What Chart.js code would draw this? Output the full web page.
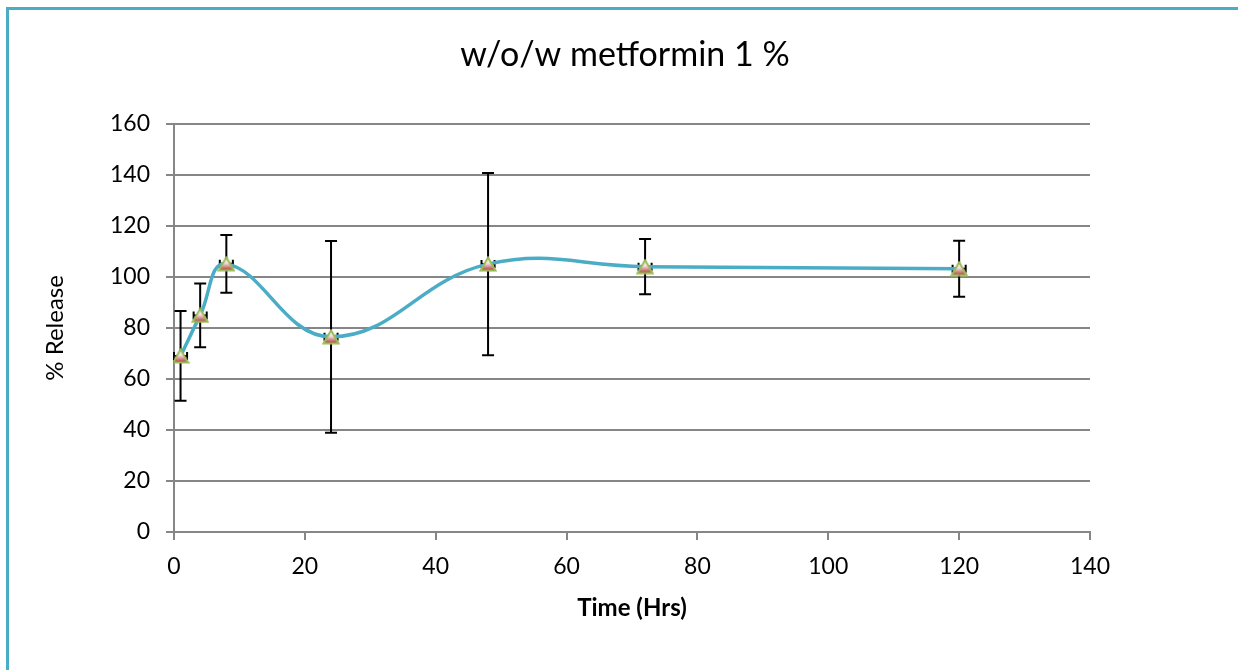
<!DOCTYPE html>
<html>
<head>
<meta charset="utf-8">
<script src="https://cdn.jsdelivr.net/npm/chart.js@4.4.1/dist/chart.umd.min.js"></script>
<style>
  html, body { margin: 0; padding: 0; background: #fff; overflow: hidden; }
  #frame { position: absolute; left: 6px; top: 7px; width: 1300px; height: 700px;
           border-left: 3px solid #4bacc6; border-top: 3px solid #4bacc6; }
  #wrap { position: absolute; left: 0; top: 0; width: 1238px; height: 670px; }
</style>
</head>
<body>
<div id="frame"></div>
<div id="wrap"><canvas id="chart" width="1238" height="670"></canvas></div>
<script>
// === DATA ===
const timeHrs = [1, 4, 8, 24, 48, 72, 120];
const release = [69, 84.9, 105.1, 76.5, 105, 104, 103.2];
const releaseErr = [17.6, 12.5, 11.3, 37.6, 35.7, 10.8, 11];
const timeErr = [1, 1, 1, 1, 1, 1, 1];
const xTicks = [0, 20, 40, 60, 80, 100, 120, 140];
const yTicks = [0, 20, 40, 60, 80, 100, 120, 140, 160];

const FONT = "Lato, 'Open Sans', sans-serif";
const GRID = "#868686";

// triangle marker with the excel-like gradient fill
function makeMarker() {
  const c = document.createElement("canvas");
  c.width = 18; c.height = 16;
  const g = c.getContext("2d");
  const grad = g.createLinearGradient(0, 2, 0, 14);
  grad.addColorStop(0, "#ffffff");
  grad.addColorStop(0.45, "#f2dcdb");
  grad.addColorStop(0.7, "#d99694");
  grad.addColorStop(1, "#b0413e");
  g.beginPath();
  g.moveTo(9, 1.5);
  g.lineTo(16.5, 14.5);
  g.lineTo(1.5, 14.5);
  g.closePath();
  g.fillStyle = grad;
  g.fill();
  g.lineWidth = 2;
  g.strokeStyle = "#9bbb59";
  g.stroke();
  return c;
}

// error bars drawn under the line and markers
const errorBars = {
  id: "errorBars",
  beforeDatasetsDraw(chart) {
    const { ctx, scales: { x, y } } = chart;
    ctx.save();
    ctx.strokeStyle = "#000";
    ctx.lineWidth = 2;
    timeHrs.forEach((t, i) => {
      const px = x.getPixelForValue(t);
      const yTop = y.getPixelForValue(release[i] + releaseErr[i]);
      const yBot = y.getPixelForValue(release[i] - releaseErr[i]);
      const py = y.getPixelForValue(release[i]);
      ctx.beginPath();
      ctx.moveTo(px, yTop); ctx.lineTo(px, yBot);
      ctx.moveTo(px - 6, yTop); ctx.lineTo(px + 6, yTop);
      ctx.moveTo(px - 6, yBot); ctx.lineTo(px + 6, yBot);
      // small horizontal error caps
      const xl = x.getPixelForValue(t - timeErr[i]);
      const xr = x.getPixelForValue(t + timeErr[i]);
      ctx.moveTo(xl, py - 4); ctx.lineTo(xl, py + 4);
      ctx.moveTo(xr, py - 4); ctx.lineTo(xr, py + 4);
      ctx.moveTo(xl, py); ctx.lineTo(xr, py);
      ctx.stroke();
    });
    ctx.restore();
  }
};

const marker = makeMarker();

new Chart(document.getElementById("chart"), {
  type: "line",
  data: {
    datasets: [{
      label: "Release",
      data: timeHrs.map((t, i) => ({ x: t, y: release[i] })),
      borderColor: "#4bacc6",
      borderWidth: 3.5,
      tension: 0.42,
      pointStyle: marker,
      pointRadius: 8,
      fill: false
    }]
  },
  options: {
    responsive: false,
    animation: false,
    layout: { padding: { left: 12, right: 0, top: 0, bottom: 0 } },
    plugins: {
      legend: { display: false },
      tooltip: { enabled: false },
      title: {
        display: true,
        text: "w/o/w metformin 1 %",
        color: "#000",
        font: { family: FONT, size: 34, weight: "normal" },
        padding: { top: 35, bottom: 48 }
      }
    },
    scales: {
      x: {
        type: "linear",
        min: 0, max: 140,
        afterBuildTicks: s => { s.ticks = xTicks.map(v => ({ value: v })); },
        afterFit: s => { s.height = 138; },
        border: { color: GRID, width: 2 },
        grid: { drawOnChartArea: false, drawTicks: true, tickLength: 8, color: GRID, lineWidth: 2 },
        ticks: { color: "#000", font: { family: FONT, size: 23 }, padding: 13, maxRotation: 0 },
        title: {
          display: true, text: "Time (Hrs)", color: "#000",
          font: { family: FONT, size: 24, weight: "bold" },
          padding: { top: 0, bottom: 47 }
        }
      },
      y: {
        min: 0, max: 160,
        afterBuildTicks: s => { s.ticks = yTicks.map(v => ({ value: v })); },
        afterFit: s => { s.width = 162; },
        border: { color: GRID, width: 2 },
        grid: { color: GRID, lineWidth: 2, tickLength: 8 },
        ticks: { color: "#000", font: { family: FONT, size: 23 }, padding: 16 },
        title: {
          display: true, text: "% Release", color: "#000",
          font: { family: FONT, size: 24 },
          padding: { top: 29, bottom: 0 }
        }
      },
      // empty right axis keeps the plot narrower than the frame
      yRight: {
        position: "right",
        display: true,
        afterFit: s => { s.width = 148; },
        grid: { display: false, drawTicks: false },
        border: { display: false },
        ticks: { display: false }
      }
    }
  },
  plugins: [errorBars]
});
</script>
</body>
</html>
